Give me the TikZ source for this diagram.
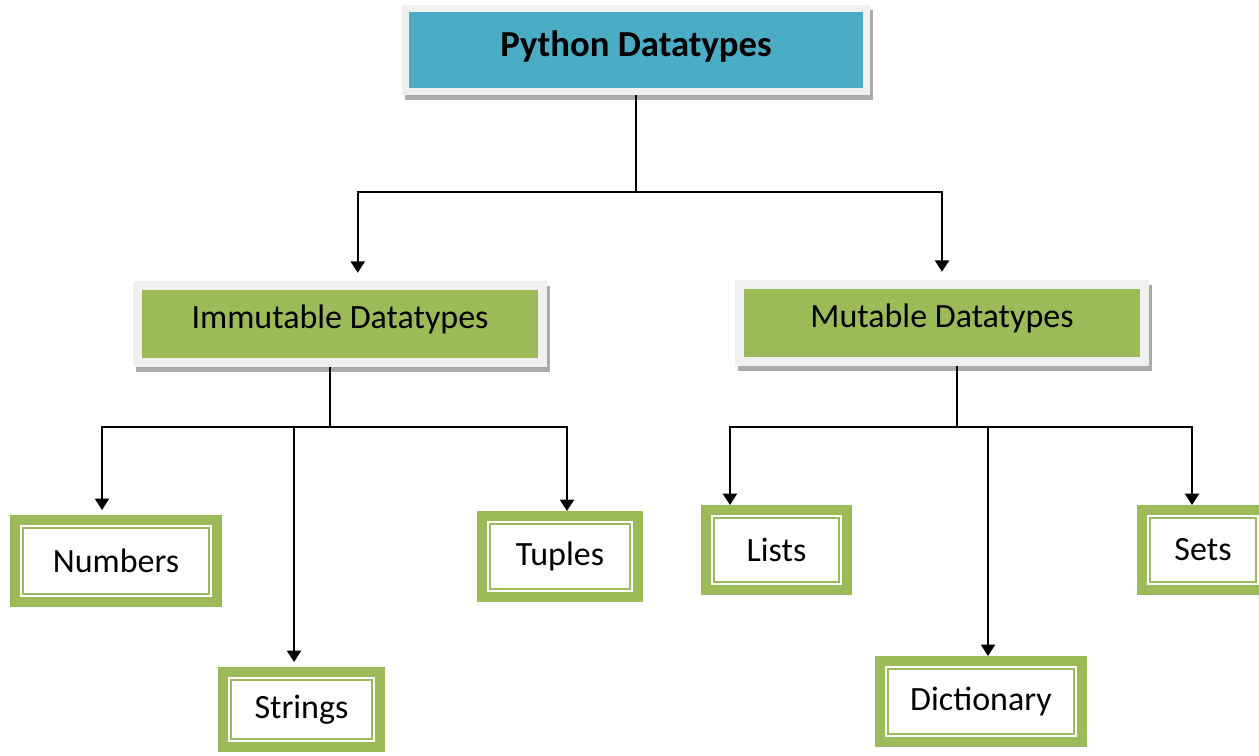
\documentclass[tikz,border=0pt]{standalone}
\usepackage{fontspec}
\setmainfont{Carlito}
\usetikzlibrary{arrows.meta}

\definecolor{pytopfill}{RGB}{75,172,198}
\definecolor{pygreen}{RGB}{155,187,89}
\definecolor{pyframe}{RGB}{240,240,240}
\definecolor{pyshadow}{RGB}{168,172,170}

\begin{document}
\begin{tikzpicture}[x=0.75pt,y=0.75pt,yscale=-1,xscale=1,
  framebox/.style={draw=pyframe, line width=6.75pt, inner sep=0pt,
    preaction={draw=pyshadow, fill=pyshadow, transform canvas={xshift=2.25pt, yshift=-3.75pt}},
    text height=16pt, text depth=10pt,
    font=\fontsize{25.5}{30}\selectfont},
  leafbox/.style={fill=white, draw=white, line width=4.5pt, inner sep=0pt, outer sep=9.75pt,
    preaction={draw=pygreen, line width=19.5pt},
    postaction={draw=pygreen, line width=1.5pt},
    font=\fontsize{25.5}{30}\selectfont},
  link/.style={line width=1.5pt},
  arr/.style={-{Triangle[width=10.5pt,length=8.5pt]}}]
\useasboundingbox (0,0) rectangle (1259,756);

% Top box
\node [framebox, fill=pytopfill, line width=5.6pt, minimum width=345.75pt, minimum height=61.9pt,
  text height=19pt, text depth=9pt,
  font=\fontsize{27.5}{32}\selectfont\bfseries] (py) at (636,50) {Python Datatypes};

% Second level
\node [framebox, fill=pygreen, minimum width=304.1pt, minimum height=58.1pt] (imm) at (340,324) {Immutable Datatypes};
\node [framebox, fill=pygreen, minimum width=304.1pt, minimum height=58.1pt] (mut) at (942,323) {Mutable Datatypes};

% Leaves
\node [leafbox, minimum width=139.5pt, minimum height=49.5pt] (num) at (116,561) {Numbers};
\node [leafbox, minimum width=105.75pt, minimum height=44.25pt] (str) at (301.5,709.5) {Strings};
\node [leafbox, minimum width=105pt, minimum height=48.75pt] (tup) at (560,556.5) {Tuples};
\node [leafbox, minimum width=93.75pt, minimum height=48pt] (lst) at (776.5,550) {Lists};
\node [leafbox, minimum width=139.5pt, minimum height=48.75pt] (dic) at (981,701.5) {Dictionary};
\node [leafbox, minimum width=79.5pt, minimum height=48pt] (set) at (1203,550) {Sets};

% Connectors
\coordinate (topjoin) at (636,192);
\coordinate (immjoin) at (330,427);
\coordinate (mutjoin) at (957,427);

\draw [link] (py.south) -- (topjoin);
\draw [link, arr, shorten >=6pt] (topjoin) -| ([xshift=13.3pt]imm.north);
\draw [link, arr, shorten >=6pt] (topjoin) -| (mut.north);

\draw [link] (immjoin |- imm.south) -- (immjoin);
\draw [link, arr, shorten >=3.75pt] (immjoin) -| ([xshift=-10.5pt]num.north);
\draw [link, arr, shorten >=3.75pt] (immjoin) -| ([xshift=-5.6pt]str.north);
\draw [link, arr] (immjoin) -| ([xshift=5.25pt]tup.north);

\draw [link] (mutjoin |- mut.south) -- (mutjoin);
\draw [link, arr] (mutjoin) -| ([xshift=-34.9pt]lst.north);
\draw [link, arr] (mutjoin) -| ([xshift=5.25pt]dic.north);
\draw [link, arr] (mutjoin) -| ([xshift=-8.25pt]set.north);

\end{tikzpicture}
\end{document}
